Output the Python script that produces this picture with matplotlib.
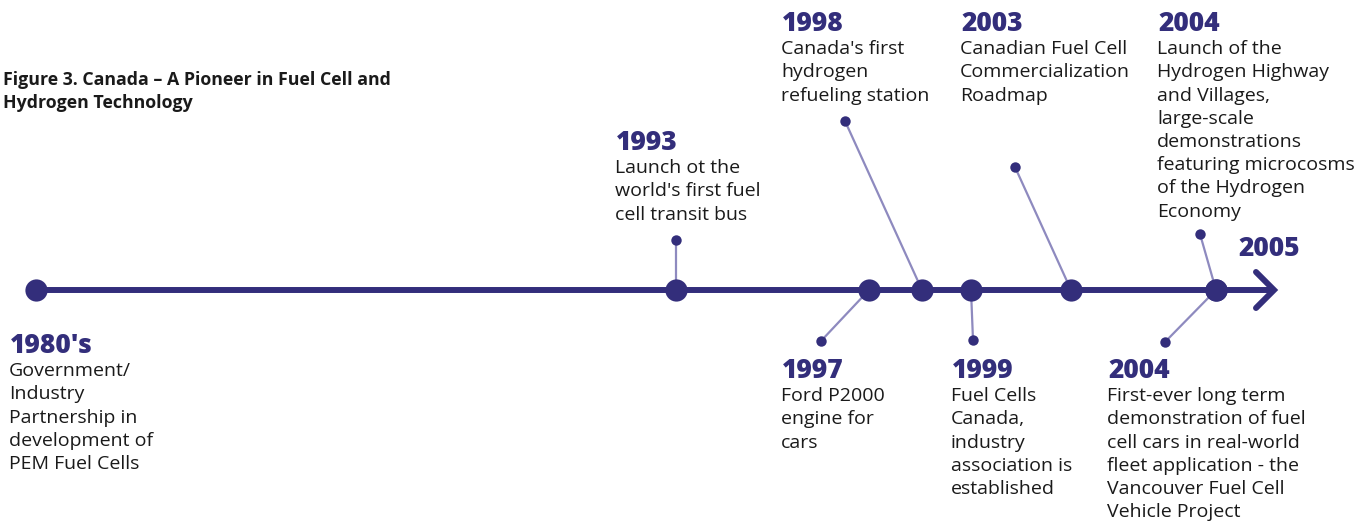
import matplotlib.pyplot as plt

NAVY = '#332e7b'
LILAC = '#8e8abf'

title_lines = ['Figure 3. Canada \u2013 A Pioneer in Fuel Cell and', 'Hydrogen Technology']

years = ["1980's", '1993', '1997', '1998', '1999', '2003', '2004', '2004']
notes = [
    ['Government/', 'Industry', 'Partnership in', 'development of', 'PEM Fuel Cells'],
    ['Launch ot the', "world's first fuel", 'cell transit bus'],
    ['Ford P2000', 'engine for', 'cars'],
    ["Canada's first", 'hydrogen', 'refueling station'],
    ['Fuel Cells', 'Canada,', 'industry', 'association is', 'established'],
    ['Canadian Fuel Cell', 'Commercialization', 'Roadmap'],
    ['Launch of the', 'Hydrogen Highway', 'and Villages,', 'large-scale',
     'demonstrations', 'featuring microcosms', 'of the Hydrogen', 'Economy'],
    ['First-ever long term', 'demonstration of fuel', 'cell cars in real-world',
     'fleet application - the', 'Vancouver Fuel Cell', 'Vehicle Project'],
]
end_year = '2005'

# layout, in pixels of the 1360x521 canvas (y grows downwards)
axis_y = 290
axis_start, axis_end = 36, 1274
node_x = [36, 676, 869, 922, 971, 1071, 1216, 1216]
pin_xy = [None, (676, 240), (821, 341), (845, 121), (973, 340),
          (1015, 167), (1200, 234), (1165, 342)]
label_xy = [(10, 353), (616, 150), (782, 378), (782, 31), (952, 378),
            (961, 31), (1158, 31), (1108, 378)]
end_label_xy = (1238, 256)
line_step = 23.2

plt.rcParams['font.family'] = ['Open Sans', 'DejaVu Sans']

fig = plt.figure(figsize=(13.6, 5.21), dpi=100)
ax = fig.add_axes([0, 0, 1, 1])
ax.set_xlim(0, 1360)
ax.set_ylim(521, 0)
ax.axis('off')

# main axis with chevron arrow
ax.plot([axis_start, axis_end - 2], [axis_y, axis_y], color=NAVY, lw=4.3,
        solid_capstyle='butt', zorder=2)
ax.plot([axis_end - 18, axis_end, axis_end - 18],
        [axis_y - 18, axis_y, axis_y + 18], color=NAVY, lw=4.3,
        solid_joinstyle='miter', solid_capstyle='round', zorder=2)

for i in range(len(years)):
    bx = node_x[i]
    if pin_xy[i] is not None:
        px, py = pin_xy[i]
        ax.plot([px, bx], [py, axis_y], color=LILAC, lw=1.6, zorder=1)
        ax.plot(px, py, 'o', color=NAVY, ms=7.5, mew=0, zorder=3)
    ax.plot(bx, axis_y, 'o', color=NAVY, ms=16, mew=0, zorder=3)

    lx, ly = label_xy[i]
    ax.text(lx, ly, years[i], fontsize=19, fontweight='heavy', color=NAVY,
            ha='left', va='baseline')
    for k, line in enumerate(notes[i]):
        ax.text(lx - 1, ly + line_step * (k + 1), line, fontsize=14,
                color='#1a1a1a', ha='left', va='baseline')

ax.text(end_label_xy[0], end_label_xy[1], end_year, fontsize=19,
        fontweight='heavy', color=NAVY, ha='left', va='baseline')

for k, line in enumerate(title_lines):
    ax.text(3, 85 + 23 * k, line, fontsize=12.8, fontweight='bold',
            color='#1a1a1a', ha='left', va='baseline')

fig.savefig('out.png', dpi=100)
